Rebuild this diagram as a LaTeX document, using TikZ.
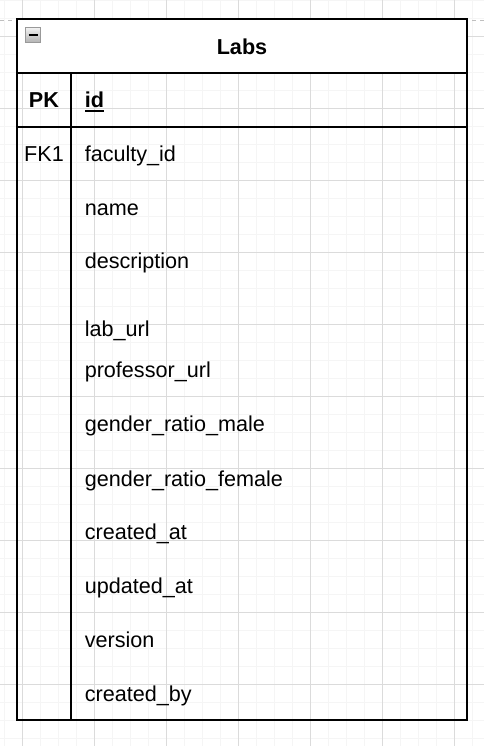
\documentclass[tikz,border=0pt]{standalone}
\usepackage{fontspec}
\setmainfont{Liberation Sans}
\begin{document}
\begin{tikzpicture}[x=0.75pt,y=-0.75pt,
  field/.style={anchor=base west,inner sep=0pt,font=\fontsize{16.2}{19}\selectfont},
  keycell/.style={anchor=base,inner sep=0pt,font=\fontsize{16.2}{19}\selectfont},
  title/.style={anchor=base,inner sep=0pt,font=\fontsize{16.2}{19}\selectfont\bfseries},
  tline/.style={line width=1.1pt,black},
  minorgrid/.style={black!4,line width=0.75pt},
  majorgrid/.style={black!14,line width=0.75pt}]
\useasboundingbox (0,0) rectangle (484,746);
\fill[white] (0,0) rectangle (484,746);
% grid
\foreach \x in {4,22,...,484} \draw[minorgrid] (\x,0) -- (\x,746);
\foreach \y in {0,18,...,746} \draw[minorgrid] (0,\y) -- (484,\y);
\foreach \x in {22,94,...,484} \draw[majorgrid] (\x,0) -- (\x,746);
\foreach \y in {36,108,...,746} \draw[majorgrid] (0,\y) -- (484,\y);
% page break line
\draw[black!25,line width=0.75pt,dash pattern=on 3pt off 3pt] (0,20.5) -- (484,20.5);
% header
\fill[white] (17,19) rectangle (467,73);
% table lines
\coordinate (tl) at (17,19);
\coordinate (br) at (467,720);
\draw[tline] (tl) rectangle (br);
\draw[tline] (17,73) -- (467,73);
\draw[tline] (17,127) -- (467,127);
\draw[tline] (71,73) -- (71,720);
% collapse icon
\draw[black!40,top color=black!5,bottom color=black!30,line width=0.6pt] (25.5,27.5) rectangle (40.5,42.5);
\draw[black,line width=1.5pt] (28.5,35) -- (37.5,35);
% texts
\node[title] (labs) at (242,54.3) {Labs};
\node[title] (pk) at (44,107.3) {PK};
\node[field,font=\fontsize{16.2}{19}\selectfont\bfseries] (id) at (84.5,107.3) {id};
\draw[black,line width=1.4pt] ([shift={(0.5,3.8)}]id.base west) -- ([shift={(0,3.8)}]id.base east);
\node[keycell] (fk1) at (44,161.7) {FK1};
\node[field] (f1) at (84.5,161.7) {faculty\_id};
\node[field] (f2) at (84.5,215) {name};
\node[field] (f3) at (84.5,268.5) {description};
\node[field] (f4) at (84.5,336.7) {lab\_url};
\node[field] (f5) at (84.5,377.3) {professor\_url};
\node[field] (f6) at (84.5,431.7) {gender\_ratio\_male};
\node[field] (f7) at (84.5,486) {gender\_ratio\_female};
\node[field] (f8) at (84.5,539.5) {created\_at};
\node[field] (f9) at (84.5,593.5) {updated\_at};
\node[field] (f10) at (84.5,647.7) {version};
\node[field] (f11) at (84.5,701.7) {created\_by};
\end{tikzpicture}
\end{document}
